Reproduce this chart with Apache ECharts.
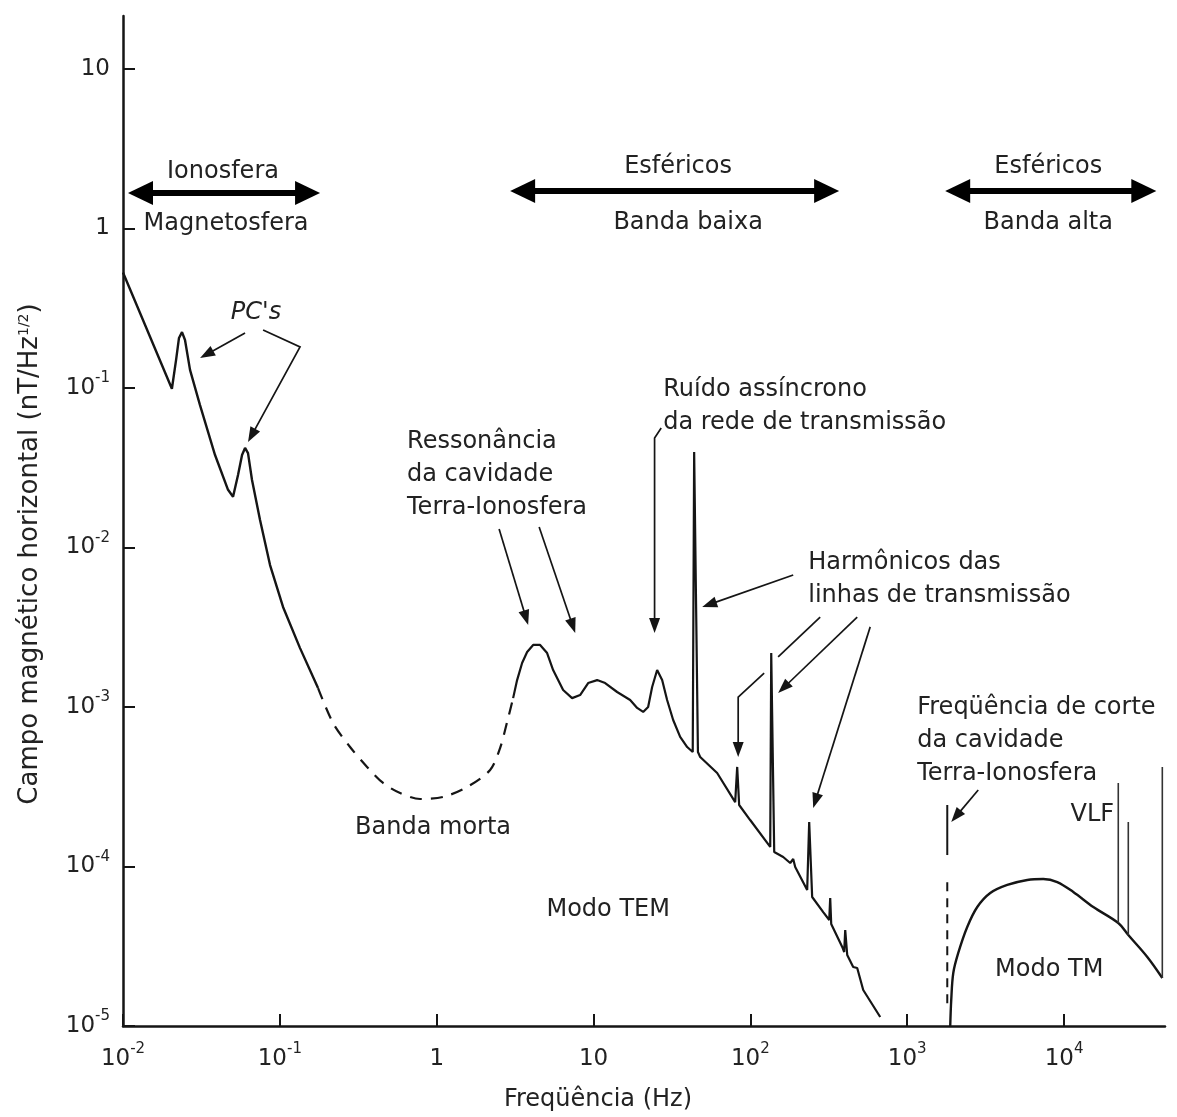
<!DOCTYPE html>
<html><head><meta charset="utf-8">
<script src="https://cdn.jsdelivr.net/npm/echarts@6/dist/echarts.min.js"></script>
<style>html,body{margin:0;padding:0;background:#fff}#c{width:1177px;height:1117px}</style>
</head><body><div id="c"></div>
<script>
// ---------- tick values ----------
const X_TICKS = [0.01, 0.1, 1, 10, 100, 1000, 10000];
const Y_TICKS = [1e-5, 1e-4, 1e-3, 1e-2, 0.1, 1, 10];

// ---------- magnetosphere / ionosphere (solid) ----------
const magF = [0.01, 0.0205, 0.0218, 0.02275, 0.02378, 0.02485, 0.02675, 0.03097, 0.03862, 0.04674, 0.0503, 0.05412, 0.05741, 0.06, 0.06266, 0.06646, 0.07477, 0.0866, 0.1048, 0.1345, 0.1752];
const magV = [0.53, 0.099, 0.150, 0.206, 0.224, 0.200, 0.130, 0.0782, 0.0380, 0.0230, 0.0208, 0.0285, 0.0380, 0.0421, 0.0391, 0.0265, 0.01486, 0.00776, 0.00424, 0.00234, 0.001315];

// ---------- dead band (dashed) ----------
const deadF = [0.1752, 0.2184, 0.2804, 0.3598, 0.4552, 0.5843, 0.7839, 1.099, 1.563, 2.191, 2.536, 2.812, 3.071];
const deadV = [0.001315, 7.94e-4, 5.61e-4, 4.21e-4, 3.34e-4, 2.89e-4, 2.65e-4, 2.73e-4, 3.15e-4, 4.03e-4, 5.53e-4, 8.05e-4, 1.137e-3];

// ---------- TEM mode (solid, with power-line spikes) ----------
const temF = [3.071, 3.256, 3.504, 3.772, 4.12, 4.564, 5.058, 5.525, 6.40, 7.30, 8.21, 9.24, 10.54, 11.86, 14.14, 17.12, 18.97, 20.72, 22.29, 23.64, 25.44, 27.38, 29.45, 32.19, 35.67, 39.54, 42.9, 43.8, 46.3, 47.86, 61.4, 80.0, 82.4, 84.8, 99.7, 133.8, 135.8, 141.9, 161.9, 179.4, 187.5, 193.1, 230.2, 237.1, 247.7, 291.3, 318.2, 322.8, 327.6, 385.1, 396.3, 402.4, 414.4, 452.4, 479.8, 524.1, 672.6];
const temV = [1.137e-3, 1.475e-3, 1.888e-3, 2.213e-3, 2.449e-3, 2.449e-3, 2.18e-3, 1.706e-3, 1.279e-3, 1.137e-3, 1.189e-3, 1.413e-3, 1.475e-3, 1.413e-3, 1.242e-3, 1.107e-3, 9.87e-4, 9.31e-4, 1.0e-3, 1.334e-3, 1.706e-3, 1.475e-3, 1.107e-3, 8.29e-4, 6.49e-4, 5.61e-4, 5.22e-4, 0.0397, 5.22e-4, 4.86e-4, 3.855e-4, 2.535e-4, 4.21e-4, 2.43e-4, 1.956e-4, 1.326e-4, 2.18e-3, 1.233e-4, 1.147e-4, 1.052e-4, 1.114e-4, 9.93e-5, 7.12e-5, 1.901e-4, 6.44e-5, 5.18e-5, 4.62e-5, 6.34e-5, 4.36e-5, 3.13e-5, 2.91e-5, 4.0e-5, 2.787e-5, 2.344e-5, 2.31e-5, 1.681e-5, 1.139e-5];

// ---------- TM mode (solid) ----------
const tmF = [1880, 1908, 1966, 2115, 2413, 2796, 3383, 4343, 5826, 7369, 9049, 11450, 15360, 22160, 25670, 33930, 42300];
const tmV = [1.0e-5, 1.456e-5, 2.149e-5, 2.87e-5, 4.175e-5, 5.57e-5, 6.82e-5, 7.66e-5, 8.23e-5, 8.35e-5, 7.99e-5, 6.92e-5, 5.57e-5, 4.42e-5, 3.72e-5, 2.71e-5, 2.0e-5];

// ---------- VLF transmitter lines ----------
const vlfF = [22160, 25670, 42300];
const vlfBase = [4.42e-5, 3.72e-5, 2.0e-5];
const vlfTop = [3.34e-4, 1.90e-4, 4.21e-4];

// ---------- cavity cut-off marker ----------
const cutF = 1800;
const cutSolidV = [1.18e-4, 2.43e-4];
const cutDashV = [1.39e-5, 8.59e-5];

// ---------- annotation texts ----------
const bandTexts = ['Ionosfera', 'Magnetosfera', 'Esféricos', 'Banda baixa', 'Esféricos', 'Banda alta'];
const bandTextF = [0.0434, 0.0454, 34.6, 40.1, 7925, 7925];
const bandTextV = [2.26, 1.067, 2.43, 1.083, 2.43, 1.083];
const bandArrowF = [[0.01076, 0.1805], [2.94, 368], [1746, 38730]];
const bandArrowV = [1.67, 1.72, 1.72];

const centerTexts = ['Banda morta', 'Modo TEM', 'Modo TM', 'VLF'];
const centerTextF = [0.948, 12.4, 8047, 15140];
const centerTextV = [1.743e-4, 5.34e-5, 2.245e-5, 2.10e-4];

const blockTexts = ['Ressonância\nda cavidade\nTerra-Ionosfera', 'Ruído assíncrono\nda rede de transmissão', 'Harmônicos das\nlinhas de transmissão', 'Freqüência de corte\nda cavidade\nTerra-Ionosfera'];
const blockTextF = [0.647, 27.8, 233.8, 1158];
const blockTextV = [0.0458, 0.0970, 8.0e-3, 9.86e-4];

// arrows: list of [f,v] points, last = tip (head drawn if headed)
const arrows = [
  {pts: [[0.060, 0.221], [0.031, 0.154]], head: true},
  {pts: [[0.0782, 0.231], [0.1345, 0.181], [0.0627, 0.0458]], head: true},
  {pts: [[2.50, 0.01306], [3.83, 3.27e-3]], head: true},
  {pts: [[4.50, 0.01344], [7.64, 2.91e-3]], head: true},
  {pts: [[27.0, 0.0561], [24.5, 0.0486], [24.5, 2.91e-3]], head: true},
  {pts: [[187.5, 6.72e-3], [49.3, 4.24e-3]], head: true},
  {pts: [[278.6, 3.66e-3], [150.3, 2.06e-3]], head: false},
  {pts: [[122.4, 1.633e-3], [83.6, 1.155e-3], [83.6, 4.86e-4]], head: true},
  {pts: [[479.8, 3.66e-3], [150.3, 1.224e-3]], head: true},
  {pts: [[580.7, 3.18e-3], [251.5, 2.33e-4]], head: true},
  {pts: [[2836, 3.02e-4], [1908, 1.90e-4]], head: true}
];
const pcText = "PC's";
const pcF = 0.0705, pcV = 0.295;

// ---------- chart ----------
const FONT = '"DejaVu Sans", sans-serif';
const INK = '#151515';
const TXT = '#222';
const zip = (a, b) => a.map((x, i) => [x, b[i]]);

function powLabel(v) {
  const e = Math.round(Math.log10(v));
  if (e === 0) return '{b|1}';
  if (e === 1) return '{b|10}';
  return '{b|10}{s|' + e + '}';
}
const richLab = {
  b: {fontSize: 23, lineHeight: 34, fontFamily: FONT, color: TXT},
  s: {fontSize: 15, lineHeight: 12, verticalAlign: 'top', fontFamily: FONT, color: TXT}
};

const lineSeries = (data, opts) => Object.assign({
  type: 'line', data, symbol: 'none', showSymbol: false, silent: true,
  lineStyle: {color: INK, width: 2.4}, z: 3
}, opts || {});

const series = [
  lineSeries(zip(magF, magV)),
  lineSeries(zip(deadF, deadV), {smooth: 0.3, lineStyle: {color: INK, width: 2.2, type: [12, 9]}}),
  lineSeries(zip(temF, temV), {lineStyle: {color: INK, width: 2.2}}),
  lineSeries(zip(tmF, tmV), {smooth: 0.35}),
  lineSeries([[cutF, cutSolidV[0]], [cutF, cutSolidV[1]]], {lineStyle: {color: INK, width: 2}}),
  lineSeries([[cutF, cutDashV[0]], [cutF, cutDashV[1]]], {lineStyle: {color: INK, width: 2, type: [9, 7]}})
];
vlfF.forEach((f, i) => series.push(lineSeries([[f, vlfBase[i]], [f, vlfTop[i]]], {lineStyle: {color: '#333', width: 1.6}})));

const chart = echarts.init(document.getElementById('c'), null, {renderer: 'canvas'});
chart.setOption({
  animation: false,
  backgroundColor: '#fff',
  grid: {left: 123, right: 12, top: 16, bottom: 91, containLabel: false},
  xAxis: {
    type: 'log', logBase: 10, min: 0.01, max: 44000,
    name: 'Freqüência (Hz)', nameLocation: 'middle', nameGap: 62,
    nameTextStyle: {fontFamily: FONT, fontSize: 24, color: TXT, padding: [0, 92, 0, 0]},
    axisLine: {lineStyle: {color: INK, width: 2.5}},
    axisTick: {inside: true, length: 12, lineStyle: {color: INK, width: 2}, customValues: X_TICKS},
    axisLabel: {margin: 16, formatter: powLabel, rich: richLab, customValues: X_TICKS},
    splitLine: {show: false}, minorTick: {show: false}
  },
  yAxis: {
    type: 'log', logBase: 10, min: 1e-5, max: 21.5,
    name: 'Campo magnético horizontal (nT/Hz{s|1/2})', nameLocation: 'middle', nameGap: 80, nameRotate: 90,
    nameTextStyle: {fontFamily: FONT, fontSize: 26, color: TXT, padding: [0, 66, 0, 0],
      rich: {s: {fontSize: 14, lineHeight: 12, verticalAlign: 'top', fontFamily: FONT, color: TXT}}},
    axisLine: {lineStyle: {color: INK, width: 2.5}},
    axisTick: {inside: true, length: 12, lineStyle: {color: INK, width: 2}, customValues: Y_TICKS},
    axisLabel: {margin: 13, formatter: powLabel, rich: richLab, customValues: Y_TICKS},
    splitLine: {show: false}, minorTick: {show: false}
  },
  series
});

// ---------- annotations through the chart's own coordinate conversion ----------
const P = (f, v) => chart.convertToPixel({gridIndex: 0}, [f, v]);
function headPts(p, q, len, hw) {
  const dx = q[0] - p[0], dy = q[1] - p[1], L = Math.hypot(dx, dy);
  const ux = dx / L, uy = dy / L;
  const bx = q[0] - ux * len, by = q[1] - uy * len;
  return {tri: [[q[0], q[1]], [bx - uy * hw, by + ux * hw], [bx + uy * hw, by - ux * hw]], base: [bx + ux * 2, by + uy * 2]};
}
const g = [];
const textFont = '24px ' + FONT;

bandTexts.forEach((t, i) => {
  const p = P(bandTextF[i], bandTextV[i]);
  g.push({type: 'text', z: 20, x: p[0], y: p[1], style: {text: t, font: textFont, fill: TXT, align: 'center', verticalAlign: 'middle'}});
});
bandArrowF.forEach((fs, i) => {
  const a = P(fs[0], bandArrowV[i]), b = P(fs[1], bandArrowV[i]);
  const h1 = headPts(b, a, 25, 12), h2 = headPts(a, b, 25, 12);
  g.push({type: 'line', z: 20, shape: {x1: h1.base[0], y1: a[1], x2: h2.base[0], y2: b[1]}, style: {stroke: '#000', lineWidth: 6}});
  g.push({type: 'polygon', z: 20, shape: {points: h1.tri}, style: {fill: '#000'}});
  g.push({type: 'polygon', z: 20, shape: {points: h2.tri}, style: {fill: '#000'}});
});
centerTexts.forEach((t, i) => {
  const p = P(centerTextF[i], centerTextV[i]);
  g.push({type: 'text', z: 20, x: p[0], y: p[1], style: {text: t, font: textFont, fill: TXT, align: 'center', verticalAlign: 'middle'}});
});
blockTexts.forEach((t, i) => {
  const p = P(blockTextF[i], blockTextV[i]);
  g.push({type: 'text', z: 20, x: p[0], y: p[1] - 16.5, style: {text: t, font: textFont, fill: TXT, align: 'left', verticalAlign: 'top', lineHeight: 33}});
});
{
  const p = P(pcF, pcV);
  g.push({type: 'text', z: 20, x: p[0], y: p[1], style: {text: pcText, font: 'italic 24px ' + FONT, fill: TXT, align: 'center', verticalAlign: 'middle'}});
}
arrows.forEach(a => {
  const pts = a.pts.map(q => P(q[0], q[1]));
  if (a.head) {
    const n = pts.length;
    const h = headPts(pts[n - 2], pts[n - 1], 15, 5.5);
    const shaft = pts.slice(0, n - 1).concat([h.base]);
    g.push({type: 'polyline', z: 20, shape: {points: shaft}, style: {stroke: INK, lineWidth: 1.7, fill: null}});
    g.push({type: 'polygon', z: 20, shape: {points: h.tri}, style: {fill: INK}});
  } else {
    g.push({type: 'polyline', z: 20, shape: {points: pts}, style: {stroke: INK, lineWidth: 1.7, fill: null}});
  }
});
chart.setOption({graphic: g});
</script>
</body></html>
